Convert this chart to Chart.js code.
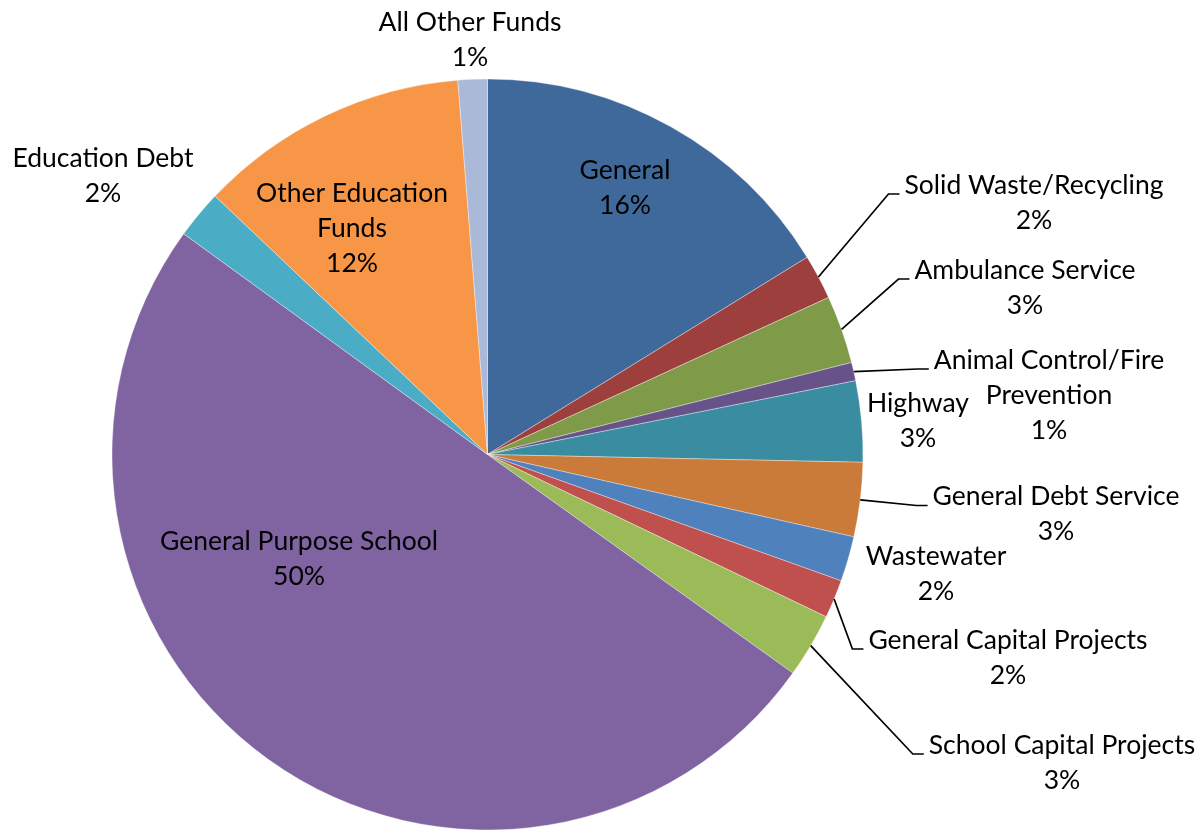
<!DOCTYPE html>
<html>
<head>
<meta charset="utf-8">
<title>Fund Shares</title>
<script src="https://cdn.jsdelivr.net/npm/chart.js@4.4.1/dist/chart.umd.min.js"></script>
<style>
  html, body { margin: 0; padding: 0; background: #fff; }
  canvas { display: block; }
</style>
</head>
<body>
<canvas id="fundChart" width="1202" height="831"></canvas>
<script>
// fund names ('\n' marks where the label wraps)
const funds = [
    'General',
    'Solid Waste/Recycling',
    'Ambulance Service',
    'Animal Control/Fire\nPrevention',
    'Highway',
    'General Debt Service',
    'Wastewater',
    'General Capital Projects',
    'School Capital Projects',
    'General Purpose School',
    'Education Debt',
    'Other Education\nFunds',
    'All Other Funds'
];
// share of total, percent
const shares = [16.2, 1.93, 2.93, 0.79, 3.48, 3.19, 1.94, 1.65, 2.78, 50.11, 2.08, 11.66, 1.26];

const sliceColors = [
    '#40699B', '#9D403D', '#7F9A48', '#67538A', '#3A8DA0', '#CB7B39', '#4F81BD',
    '#C0504D', '#9BBB59', '#8064A2', '#4BACC6', '#F79646', '#A9B9D7'
];

// label block centres as offsets from the pie centre, leader = draw a connector
const labelSpots = [
    { dx: 137.5, dy: -267 },
    { dx: 546.5, dy: -252, leader: true },
    { dx: 537.5, dy: -167, leader: true },
    { dx: 561.5, dy: -59.5, leader: true },
    { dx: 430.5, dy: -34 },
    { dx: 568.5, dy: 59.5, leader: true },
    { dx: 448.5, dy: 119 },
    { dx: 520.5, dy: 203, leader: true },
    { dx: 574.5, dy: 308, leader: true },
    { dx: -188.5, dy: 104 },
    { dx: -384.5, dy: -279 },
    { dx: -135.5, dy: -226.5 },
    { dx: -17.5, dy: -415 }
];

const FONT = '26.5px Lato';
const LINE_H = 35;

const sliceLabels = {
    id: 'sliceLabels',
    afterDatasetsDraw(chart) {
        const ctx = chart.ctx;
        const meta = chart.getDatasetMeta(0);
        const total = shares.reduce((a, b) => a + b, 0);
        ctx.save();
        ctx.font = FONT;
        ctx.fillStyle = '#000';
        ctx.strokeStyle = '#000';
        ctx.lineWidth = 1.7;
        ctx.textAlign = 'center';
        ctx.textBaseline = 'middle';
        meta.data.forEach((arc, i) => {
            const p = arc.getProps(['x', 'y', 'startAngle', 'endAngle', 'outerRadius'], true);
            const spot = labelSpots[i];
            const lines = funds[i].split('\n');
            lines.push(Math.round(shares[i] / total * 100) + '%');
            const cx = p.x + spot.dx;
            const top = p.y + spot.dy - (lines.length - 1) * LINE_H / 2;
            lines.forEach((t, k) => ctx.fillText(t, cx, top + k * LINE_H));

            if (spot.leader) {
                const w = Math.max(...lines.map(t => ctx.measureText(t).width));
                const left = cx - w / 2;
                const mid = (p.startAngle + p.endAngle) / 2;
                const sx = p.x + Math.cos(mid) * p.outerRadius;
                const sy = p.y + Math.sin(mid) * p.outerRadius;
                const ly = top + 9;
                ctx.beginPath();
                ctx.moveTo(sx, sy);
                ctx.lineTo(left - 16, ly);
                ctx.lineTo(left - 5, ly);
                ctx.stroke();
            }
        });
        ctx.restore();
    }
};

function drawChart() {
    const ctx = document.getElementById('fundChart').getContext('2d');
    return new Chart(ctx, {
        type: 'pie',
        data: {
            labels: funds,
            datasets: [{
                data: shares,
                backgroundColor: sliceColors,
                borderColor: 'rgba(255, 255, 255, 0.35)',
                borderWidth: 1,
                radius: 375.5
            }]
        },
        options: {
            responsive: false,
            animation: false,
            layout: { padding: { left: 0, right: 227, top: 78, bottom: 0 } },
            plugins: {
                legend: { display: false },
                tooltip: { enabled: false }
            }
        },
        plugins: [sliceLabels]
    });
}

document.fonts.load(FONT).then(drawChart, drawChart);
</script>
</body>
</html>
